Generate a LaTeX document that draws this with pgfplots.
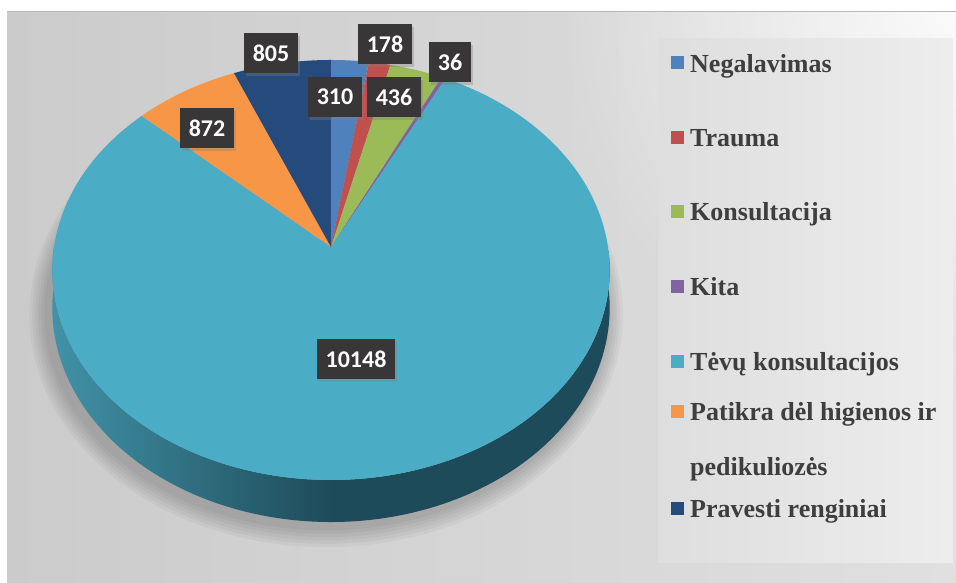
\documentclass[border=0pt]{standalone}
\usepackage{fontspec}
\setmainfont{Liberation Serif}
\newfontfamily\labfont{Carlito}
\newfontfamily\legfont{Liberation Serif Bold}
\usepackage{pgfplots}
\usepackage{pgfplotstable}
\pgfplotsset{compat=1.18}
\usetikzlibrary{shadows,fadings}
\definecolor{cA}{HTML}{4F81BD}
\definecolor{cB}{HTML}{C0504D}
\definecolor{cC}{HTML}{9BBB59}
\definecolor{cD}{HTML}{8064A2}
\definecolor{cE}{HTML}{4BACC6}
\definecolor{cF}{HTML}{F79646}
\definecolor{cG}{HTML}{254B7C}
\definecolor{sideL}{HTML}{4192A8}
\definecolor{sideR}{HTML}{1E4B59}
\definecolor{labbg}{HTML}{383636}
\definecolor{legtxt}{HTML}{3E3E3E}
\definecolor{bgL}{HTML}{CBCBCB}
\definecolor{bgR}{HTML}{E0E0E0}
\tikzfading[name=glow, inner color=transparent!0, outer color=transparent!100]

% values of the chart
\pgfplotstableread{
cat val
Negalavimas 310
Trauma 178
Konsultacija 436
Kita 36
Tevu 10148
Patikra 872
Pravesti 805
}\piedata

\pgfplotstableread{
x y lab
356 359 10148
207 128 872
271 53 805
335 97 310
394 97 436
385 44 178
450 62 36
}\labdata

\pgfplotstableread[col sep=comma]{
x,y,txt
690,72,Negalavimas
690,146,Trauma
690,220,Konsultacija
690,295,Kita
690,370,Tėvų konsultacijos
690,420,Patikra dėl higienos ir
690,475,pedikuliozės
690,517,Pravesti renginiai
}\legdata

\newcommand\slice[3]{%
\addplot[draw=none, fill=#1, samples at={0,1,...,180,360}, variable=\s]
 ({ifthenelse(\s>270,331,pieX((#2)+((#3)-(#2))*\s/180))},
  {ifthenelse(\s>270,247,pieY((#2)+((#3)-(#2))*\s/180))});}

\newcommand\legsq[2]{%
\addplot[only marks, mark=square*, mark size=6bp, color=#1, mark options={draw=none, fill=#1}] coordinates {(677,#2)};}

\begin{document}
\begin{tikzpicture}[declare function={
 pieX(\t)=331+277*cos(\t)/(1+0.1095*sin(\t));
 pieY(\t)=247-207.5*sin(\t)/(1+0.1095*sin(\t));
 dep(\t)=37.4/(1+0.1095*sin(\t));
}]
\pgfplotstablegetelem{0}{val}\of\piedata \let\vA\pgfplotsretval
\pgfplotstablegetelem{1}{val}\of\piedata \let\vB\pgfplotsretval
\pgfplotstablegetelem{2}{val}\of\piedata \let\vC\pgfplotsretval
\pgfplotstablegetelem{3}{val}\of\piedata \let\vD\pgfplotsretval
\pgfplotstablegetelem{4}{val}\of\piedata \let\vE\pgfplotsretval
\pgfplotstablegetelem{5}{val}\of\piedata \let\vF\pgfplotsretval
\pgfplotstablegetelem{6}{val}\of\piedata \let\vG\pgfplotsretval
\pgfmathsetmacro\tot{\vA+\vB+\vC+\vD+\vE+\vF+\vG}
\pgfmathsetmacro\aA{90-\vA/\tot*360}
\pgfmathsetmacro\aB{\aA-\vB/\tot*360}
\pgfmathsetmacro\aC{\aB-\vC/\tot*360}
\pgfmathsetmacro\aD{\aC-\vD/\tot*360}
\pgfmathsetmacro\aE{\aD-\vE/\tot*360}
\pgfmathsetmacro\aF{\aE-\vF/\tot*360}
\pgfmathsetmacro\aG{\aF-\vG/\tot*360}
\begin{axis}[width=956bp, height=583bp, scale only axis,
  xmin=0, xmax=956, ymin=0, ymax=583, y dir=reverse, hide axis]
% background panel
\addplot[draw=none, left color=bgL, right color=bgR]
  coordinates {(7,11) (956,11) (956,583) (7,583)};
\addplot[draw=none, fill=white, fill opacity=0.85, path fading=glow]
  coordinates {(556,-389) (1356,-389) (1356,411) (556,411)};
\addplot[draw=none, fill=white] coordinates {(0,0) (956,0) (956,10.8) (0,10.8)};
\addplot[draw=white!72!black, line width=1.5bp] coordinates {(7,11.5) (956,11.5)};
% legend panel
\addplot[draw=none, left color=white!87!black, right color=white!93!black]
  coordinates {(658,38) (953,38) (953,562) (658,562)};
% pie shadow
\foreach \g in {3,6,9,12,15,18}{
\addplot[draw=none, fill=black, fill opacity=0.035, samples=160, domain=0:360, variable=\t]
 ({326+(277+\g)*cos(\t)/(1+0.1095*sin(\t))},
  {252-(207.5+\g)*sin(\t)/(1+0.1095*sin(\t))+dep(\t)});
}
% side of the pie
\addplot[draw=none, left color=sideL, right color=sideR, middle color=sideR,
  samples at={0,1,...,360}, variable=\s]
 ({pieX(ifthenelse(\s<=180,180+\s,540-\s))},
  {pieY(ifthenelse(\s<=180,180+\s,540-\s))+ifthenelse(\s<=180,dep(180+\s),0)});
% slices
\slice{cA}{90}{\aA}
\slice{cB}{\aA}{\aB}
\slice{cC}{\aB}{\aC}
\slice{cD}{\aC}{\aD}
\slice{cE}{\aD}{\aE}
\slice{cF}{\aE}{\aF}
\slice{cG}{\aF}{\aG}
% data labels
\addplot[draw=none, mark=none, nodes near coords, point meta=explicit symbolic,
  every node near coord/.style={anchor=center, fill=labbg, text=white,
   font=\labfont\bfseries\fontsize{24bp}{28bp}\selectfont,
   inner xsep=9bp, inner ysep=0bp, minimum height=40bp,
   drop shadow={opacity=0.35, shadow xshift=2bp, shadow yshift=-3bp}}]
  table[x=x, y=y, meta=lab] {\labdata};
% legend
\legsq{cA}{62.5}
\legsq{cB}{137}
\legsq{cC}{211}
\legsq{cD}{286}
\legsq{cE}{361}
\legsq{cF}{411}
\legsq{cG}{508}
\addplot[draw=none, mark=none, nodes near coords, point meta=explicit symbolic,
  every node near coord/.style={anchor=base west, inner sep=0pt, text=legtxt,
   font=\legfont\fontsize{26bp}{30bp}\selectfont}]
  table[x=x, y=y, meta=txt, col sep=comma] {\legdata};
\end{axis}
\pgfresetboundingbox
\path (current axis.south west) rectangle (current axis.north east);
\end{tikzpicture}
\end{document}
